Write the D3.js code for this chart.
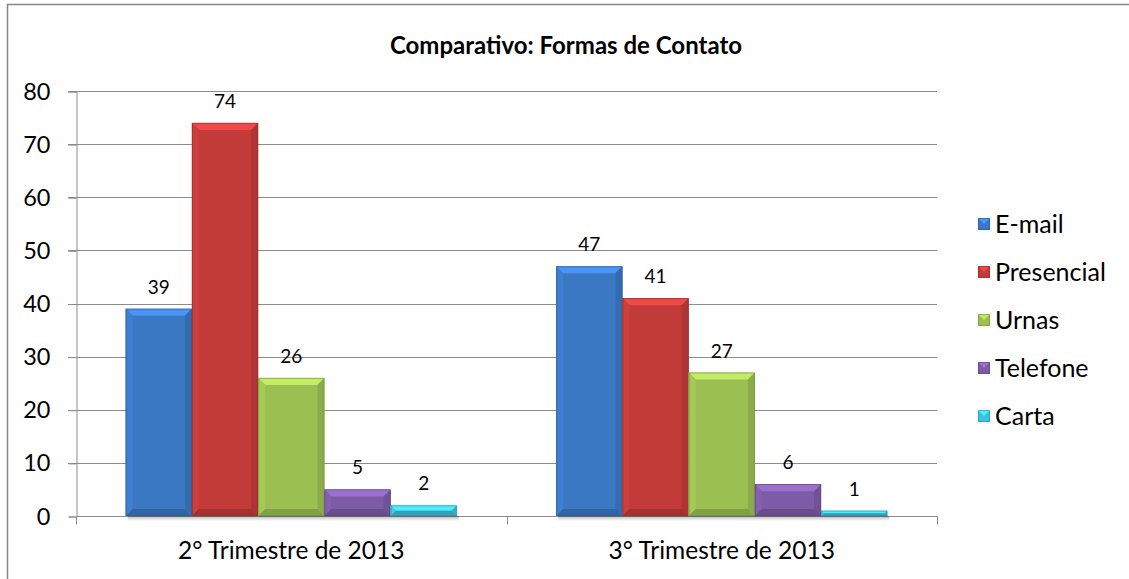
<!DOCTYPE html>
<html><head><meta charset="utf-8">
<script src="https://cdn.jsdelivr.net/npm/d3@7"></script>
<style>body{margin:0;background:#fff}svg{display:block}text{font-family:Lato,"Open Sans",sans-serif;fill:#000}</style>
</head><body><svg id="c" width="1129" height="579"></svg>
<script>
const categories = ["2° Trimestre de 2013", "3° Trimestre de 2013"];
const seriesNames = ["E-mail", "Presencial", "Urnas", "Telefone", "Carta"];
const emailValues = [39, 47];
const presencialValues = [74, 41];
const urnasValues = [26, 27];
const telefoneValues = [5, 6];
const cartaValues = [2, 1];
const yTicks = [0, 10, 20, 30, 40, 50, 60, 70, 80];
const colors = ["#3b78c4", "#c23b39", "#9cbf52", "#7d5ba6", "#3ec1de"];
const title = "Comparativo: Formas de Contato";

const seriesValues = [emailValues, presencialValues, urnasValues, telefoneValues, cartaValues];
const svg = d3.select("#c");
const L = 76, R = 937, T = 91, B = 516;

svg.append("rect").attr("x", 7.5).attr("y", 4.5).attr("width", 1140).attr("height", 600)
  .attr("fill", "#fff").attr("stroke", "#868686").attr("stroke-width", 1.5);

const x0 = d3.scaleBand().domain(categories).range([L, R]).paddingInner(0).paddingOuter(0);
const x1 = d3.scaleBand().domain(seriesNames).range([0, x0.bandwidth()]).paddingInner(0).paddingOuter(0.75);
const y = d3.scaleLinear().domain([0, 80]).range([B, T]);

// gridlines
svg.append("g").selectAll("line").data(yTicks.filter(d => d > 0)).join("line")
  .attr("x1", 68).attr("x2", R).attr("y1", d => Math.round(y(d)) + 0.5).attr("y2", d => Math.round(y(d)) + 0.5)
  .attr("stroke", "#8c8c8c").attr("stroke-width", 1);

// title
svg.append("text").attr("x", 566).attr("y", 54).attr("text-anchor", "middle")
  .style("font-weight", "bold").style("font-size", "24px").text(title);

// y axis
const yAxis = d3.axisLeft(y).tickValues(yTicks).tickSize(8).tickPadding(18).tickFormat(d3.format("d"));
const gy = svg.append("g").attr("transform", `translate(${L + 0.5},0.5)`).call(yAxis);
gy.select(".domain").attr("stroke", "#8c8c8c");
gy.selectAll(".tick line").attr("stroke", "#8c8c8c");
gy.selectAll(".tick text").style("font-size", "23.5px").style("font-family", "Lato, sans-serif").attr("fill", "#000");

// x axis
const xAxis = d3.axisBottom(x0).tickSize(0).tickPadding(25);
const gx = svg.append("g").attr("transform", `translate(0,${B + 0.5})`).call(xAxis);
gx.select(".domain").remove();
gx.selectAll(".tick text").style("font-size", "24.5px").style("font-family", "Lato, sans-serif").attr("fill", "#000");
gx.append("line").attr("x1", L).attr("x2", R + 0.5).attr("y1", 0).attr("y2", 0).attr("stroke", "#8c8c8c");
gx.selectAll(".sep").data([L, L + x0.bandwidth(), R]).join("line")
  .attr("x1", d => Math.round(d) + 0.5).attr("x2", d => Math.round(d) + 0.5).attr("y1", 0).attr("y2", 8).attr("stroke", "#8c8c8c");

// defs for shading
const defs = svg.append("defs");
const sh = defs.append("linearGradient").attr("id", "shadow").attr("x1", 0).attr("x2", 0).attr("y1", 0).attr("y2", 1);
sh.append("stop").attr("offset", 0).attr("stop-color", "#000").attr("stop-opacity", 0.28);
sh.append("stop").attr("offset", 1).attr("stop-color", "#000").attr("stop-opacity", 0);

function bevelBar(g, x, yt, w, h, color) {
  const c = d3.color(color);
  const bv = Math.min(7, h / 2, w / 2);
  g.append("rect").attr("x", x + 2).attr("y", yt + h).attr("width", w).attr("height", 5).attr("fill", "url(#shadow)");
  g.append("rect").attr("x", x).attr("y", yt).attr("width", w).attr("height", h).attr("fill", color);
  const pts = (arr) => arr.map(p => p.join(",")).join(" ");
  const xr = x + w, yb = yt + h;
  g.append("polygon").attr("points", pts([[x, yt], [xr, yt], [xr - bv, yt + bv], [x + bv, yt + bv]]))
    .attr("fill", c.brighter(0.6).formatHex());
  g.append("polygon").attr("points", pts([[x, yt], [x + bv, yt + bv], [x + bv, yb - bv], [x, yb]]))
    .attr("fill", c.brighter(0.15).formatHex());
  g.append("polygon").attr("points", pts([[xr, yt], [xr, yb], [xr - bv, yb - bv], [xr - bv, yt + bv]]))
    .attr("fill", c.darker(0.3).formatHex());
  g.append("polygon").attr("points", pts([[x, yb], [xr, yb], [xr - bv, yb - bv], [x + bv, yb - bv]]))
    .attr("fill", c.darker(0.5).formatHex());
  g.append("rect").attr("x", x + 0.5).attr("y", yt + 0.5).attr("width", w - 1).attr("height", Math.max(0, h - 1))
    .attr("fill", "none").attr("stroke", c.darker(0.8).formatHex()).attr("stroke-width", 1).attr("stroke-opacity", 0.6);
}

const bars = svg.append("g");
const labels = svg.append("g");
categories.forEach((cat, ci) => {
  seriesNames.forEach((s, si) => {
    const v = seriesValues[si][ci];
    const bx = x0(cat) + x1(s);
    const w = x1.bandwidth();
    bevelBar(bars.append("g"), bx, y(v), w, B - y(v), colors[si]);
    labels.append("text").attr("x", bx + w / 2).attr("y", y(v) - 15).attr("text-anchor", "middle")
      .style("font-size", "19px").text(v);
  });
});

// legend
const lg = svg.append("g");
const legY = d3.scalePoint().domain(seriesNames).range([224, 416]);
seriesNames.forEach((s, i) => {
  const cy = legY(s);
  const g = lg.append("g");
  const c = d3.color(colors[i]);
  const x = 978, yt = cy - 6, sz = 12;
  g.append("rect").attr("x", x).attr("y", yt).attr("width", sz).attr("height", sz).attr("fill", colors[i]);
  g.append("polygon").attr("points", `${x},${yt} ${x + sz},${yt} ${x + sz / 2},${yt + sz / 2}`).attr("fill", c.brighter(0.6).formatHex());
  g.append("rect").attr("x", x + 0.5).attr("y", yt + 0.5).attr("width", sz - 1).attr("height", sz - 1)
    .attr("fill", "none").attr("stroke", c.darker(0.8).formatHex()).attr("stroke-opacity", 0.6);
  g.append("text").attr("x", 995).attr("y", cy + 9).style("font-size", "25px").text(s);
});
</script></body></html>
